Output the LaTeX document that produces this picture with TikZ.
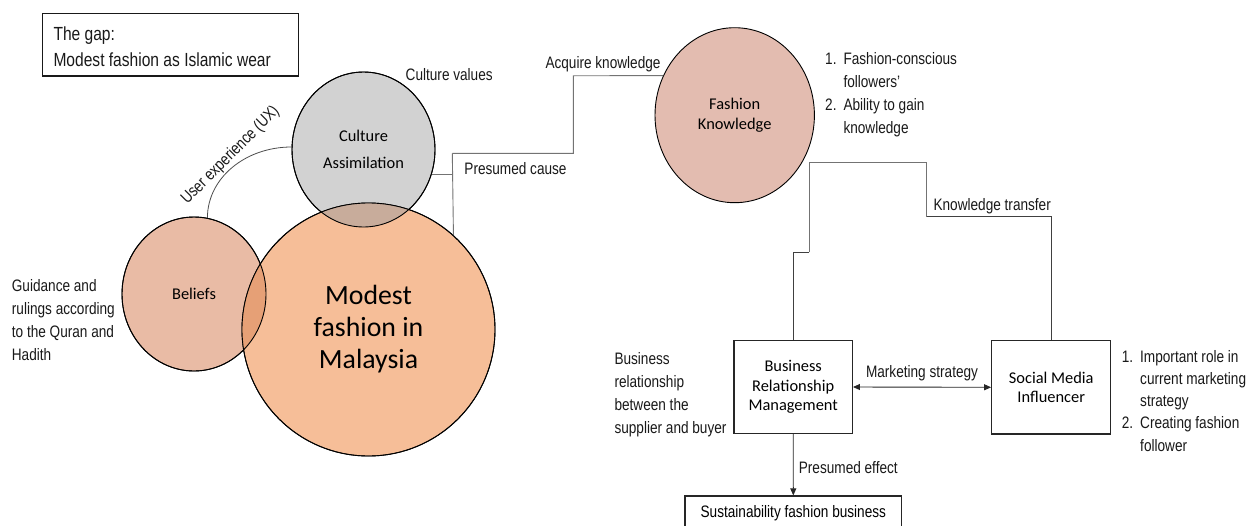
\documentclass[tikz,border=0pt]{standalone}
\usepackage{fontspec}
\usetikzlibrary{shapes.geometric,arrows.meta}
\newfontfamily\arialn[FakeStretch=0.82]{Liberation Sans}
\newfontfamily\calib{Carlito}
\definecolor{cultfill}{HTML}{D2D2D2}
\definecolor{belfill}{HTML}{E9BBA5}
\definecolor{modfill}{HTML}{F6BE98}
\definecolor{fkfill}{HTML}{E3BCB0}
\definecolor{ovcm}{HTML}{C8AC9B}
\definecolor{ovbm}{HTML}{E6A076}
\begin{document}
\begin{tikzpicture}[x=1pt,y=-1pt,
  lbl/.style={font=\arialn\fontsize{16.6}{23}\selectfont, inner sep=0pt, text=black!90},
  circ/.style={ellipse, draw=black, line width=0.9pt, inner sep=0pt, align=center, font=\calib\fontsize{16.4}{20}\selectfont},
  boxnode/.style={draw=black!85, line width=1.2pt, inner sep=0pt, align=center, font=\calib\fontsize{16.4}{19.7}\selectfont},
  gline/.style={draw=black!55, line width=0.9pt},
  dline/.style={draw=black!75, line width=0.9pt},
  outl/.style={draw=black, line width=0.9pt},
  tipd/.style={-{Triangle[length=7pt,width=6pt]}, draw=black!85, line width=0.9pt},
  tipb/.style={{Triangle[length=7pt,width=6pt]}-{Triangle[length=7pt,width=6pt]}, draw=black!85, line width=0.9pt}
]
\useasboundingbox (0,0) rectangle (1246,525);

% gap box
\node[draw=black!90, line width=1.2pt, minimum width=256pt, minimum height=62.7pt, inner sep=0pt] (gap) at (170.3,44.65) {};
\node[anchor=west, inner sep=0pt, align=left, font=\arialn\fontsize{19}{26}\selectfont, text=black!90] (gaptext) at (53.3,46.3) {The gap:\\Modest fashion as Islamic wear};

% circles
\node[circ, fill=cultfill, minimum width=143pt, minimum height=155pt, font=\calib\fontsize{16.4}{27}\selectfont] (culture) at (363.5,149.5) {Culture\\Assimilation};
\node[circ, fill=belfill, minimum width=144pt, minimum height=154pt] (beliefs) at (194,294) {Beliefs};
\node[circ, fill=modfill, minimum width=253pt, minimum height=253pt, font=\calib\fontsize{27.8}{32}\selectfont] (modest) at (368.5,329.5) {Modest\\fashion in\\Malaysia};
\node[circ, fill=fkfill, minimum width=159.4pt, minimum height=175pt] (fk) at (734.7,115.2) {Fashion\\Knowledge};

% overlaps
\begin{scope}
  \clip (culture.center) ellipse [x radius=71.5, y radius=77.5];
  \fill[ovcm] (modest.center) circle [radius=126.5];
\end{scope}
\begin{scope}
  \clip (beliefs.center) ellipse [x radius=72, y radius=77];
  \fill[ovbm] (modest.center) circle [radius=126.5];
\end{scope}
\draw[outl] (culture.center) ellipse [x radius=71.5, y radius=77.5];
\draw[outl] (beliefs.center) ellipse [x radius=72, y radius=77];
\draw[outl] (modest.center) circle [radius=126.5];

% user experience arc
\draw[draw=black!70, line width=0.8pt] (beliefs.80) .. controls +(0,-39.5) and +(-46.7,0) .. (culture.178);
\node[lbl, rotate=45] (ux) at (230.5,155.5) {User experience (UX)};

% labels
\node[lbl] (cv) at (449.2,75) {Culture values};
\node[lbl] (acq) at (603,64.5) {Acquire knowledge};
\node[lbl] (pcause) at (515.5,168.5) {Presumed cause};
\node[lbl] (ktr) at (992.2,206) {Knowledge transfer};
\node[lbl] (mkt) at (922,373) {Marketing strategy};
\node[lbl] (peff) at (848.3,467.5) {Presumed effect};
\node[lbl, anchor=west, align=left] (guid) at (11.7,320.5) {Guidance and\\rulings according\\to the Quran and\\Hadith};
\node[lbl, anchor=west, align=left] (brtext) at (614.3,394.5) {Business\\relationship\\between the\\supplier and buyer};
\node[lbl, anchor=west, align=left] (fklist) at (825,94.9) {\makebox[18.3pt][l]{1.}Fashion-conscious\\\hspace*{18.3pt}followers’\\\makebox[18.3pt][l]{2.}Ability to gain\\\hspace*{18.3pt}knowledge};
\node[lbl, anchor=west, align=left, font=\arialn\fontsize{16.6}{22.1}\selectfont] (smilist) at (1121.7,400.9) {\makebox[18.3pt][l]{1.}Important role in\\\hspace*{18.3pt}current marketing\\\hspace*{18.3pt}strategy\\\makebox[18.3pt][l]{2.}Creating fashion\\\hspace*{18.3pt}follower};

% boxes
\node[boxnode, minimum width=118.3pt, minimum height=92.6pt] (brm) at (793.2,387) {Business\\Relationship\\Management};
\node[boxnode, minimum width=119pt, minimum height=93.3pt] (smi) at (1051.2,387.3) {Social Media\\Influencer};
\node[draw=black!85, line width=1.2pt, inner sep=0pt, minimum width=216.7pt, minimum height=35pt, font=\arialn\fontsize{16.6}{20}\selectfont] (sus) at (793.3,513.5) {Sustainability fashion business};

% connectors
\coordinate (pc) at (452.3,153.3);
\coordinate (ak) at (573.3,75.8);
\coordinate (kt) at (809.3,162.7);
\draw[gline] (culture.-20) -- (culture.-20 -| pc);
\draw[gline] (pc) -- (modest.48.7);
\draw[gline] (pc) -| (ak) -- (fk.151);
\draw[gline] (kt) -- ++(0,89.6) coordinate (kb);
\draw[dline] (kb) -| (brm.north);
\draw[gline] (kt) -| (926.7,216.7);
\draw[dline] (926.7,216.7) -| (smi.north);
\draw[tipb] (brm.east) -- (smi.west);
\draw[tipd] (brm.south) -- (sus.north);
\end{tikzpicture}
\end{document}
